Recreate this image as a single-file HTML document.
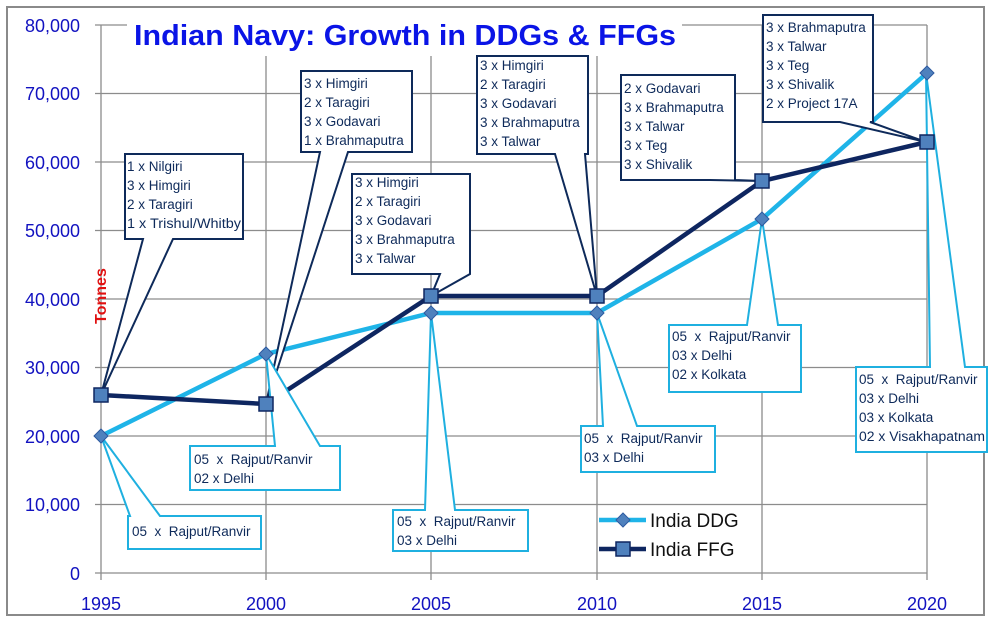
<!DOCTYPE html>
<html><head><meta charset="utf-8"><style>
html,body{margin:0;padding:0;background:#fff;}
svg{display:block;font-family:"Liberation Sans",sans-serif;}
</style></head><body>
<svg width="993" height="623" viewBox="0 0 993 623" xmlns="http://www.w3.org/2000/svg">
<rect x="0" y="0" width="993" height="623" fill="#fff"/>
<rect x="7" y="7" width="977" height="608" fill="#fff" stroke="#8a8a8a" stroke-width="2"/>
<g stroke="#8c8c8c" stroke-width="1.3" fill="none">
<line x1="95" y1="25" x2="927" y2="25"/>
<line x1="95" y1="93.5" x2="927" y2="93.5"/>
<line x1="95" y1="162" x2="927" y2="162"/>
<line x1="95" y1="230.5" x2="927" y2="230.5"/>
<line x1="95" y1="299" x2="927" y2="299"/>
<line x1="95" y1="367.5" x2="927" y2="367.5"/>
<line x1="95" y1="436" x2="927" y2="436"/>
<line x1="95" y1="504.5" x2="927" y2="504.5"/>
<line x1="95" y1="573" x2="927" y2="573"/>
<line x1="101" y1="25" x2="101" y2="580"/>
<line x1="266" y1="25" x2="266" y2="580"/>
<line x1="431" y1="25" x2="431" y2="580"/>
<line x1="597" y1="25" x2="597" y2="580"/>
<line x1="762" y1="25" x2="762" y2="580"/>
<line x1="927" y1="25" x2="927" y2="580"/>
</g>
<rect x="127" y="13" width="555" height="43" fill="#fff"/>
<text x="134" y="45" font-size="29" font-weight="bold" fill="#0a14e6" textLength="542" lengthAdjust="spacingAndGlyphs">Indian Navy: Growth in DDGs &amp; FFGs</text>
<g font-size="18" fill="#1212c0" text-anchor="end">
<text x="80" y="32">80,000</text><text x="80" y="100">70,000</text><text x="80" y="169">60,000</text>
<text x="80" y="237">50,000</text><text x="80" y="306">40,000</text><text x="80" y="374">30,000</text>
<text x="80" y="443">20,000</text><text x="80" y="511">10,000</text><text x="80" y="580">0</text>
</g>
<g font-size="18" fill="#1212c0" text-anchor="middle">
<text x="101" y="610">1995</text><text x="266" y="610">2000</text><text x="431" y="610">2005</text>
<text x="597" y="610">2010</text><text x="762" y="610">2015</text><text x="927" y="610">2020</text>
</g>
<text transform="translate(106,296) rotate(-90)" font-size="16" font-weight="bold" fill="#e01010" text-anchor="middle">Tonnes</text>

<polyline points="101,436 266,354 431,313 597,313 762,219 927,73" fill="none" stroke="#1fb4e8" stroke-width="4.5"/>
<polyline points="101,395 266,404 431,296 597,296 762,181 927,142" fill="none" stroke="#0e2660" stroke-width="4.5"/>

<g fill="#fff" stroke="#0e2a5a" stroke-width="2" stroke-linejoin="miter">
<path d="M125 154 H243 V239 H173 L101 395 L143 239 H125Z"/>
<path d="M301 71 H412 V152 H348 L266 404 L320 152 H301Z"/>
<path d="M352 174 H470 V274 L470 274 L431 296 L440 274 H352Z"/>
<path d="M477 56 H588 V154 H585 L597 296 L555 154 H477Z"/>
<path d="M621 75 H735 V180 L762 181 L710 180 H621Z"/>
<path d="M763 15 H873 V122 H870 L926 142 L840 122 H763Z"/>
</g>
<g fill="#fff" stroke="#1fb0e0" stroke-width="2">
<path d="M128 516 H130 L101 436 L160 516 H261 V549 H128Z"/>
<path d="M190 446 H275 L266 354 L320 446 H340 V490 H190Z"/>
<path d="M393 510 H425 L431 313 L455 510 H528 V551 H393Z"/>
<path d="M581 426 H603 L597 313 L637 426 H715 V472 H581Z"/>
<path d="M669 325 H747 L762 219 L778 325 H801 V392 H669Z"/>
<path d="M856 367 H930 L926 73 L965 367 H987 V452 H856Z"/>
</g>
<g fill="#4f81bd" stroke="#2d5aa0" stroke-width="1">
<path d="M101 429 l7 7 l-7 7 l-7 -7z"/><path d="M266 347 l7 7 l-7 7 l-7 -7z"/>
<path d="M431 306 l7 7 l-7 7 l-7 -7z"/><path d="M597 306 l7 7 l-7 7 l-7 -7z"/>
<path d="M762 212 l7 7 l-7 7 l-7 -7z"/><path d="M927 66 l7 7 l-7 7 l-7 -7z"/>
</g>
<g fill="#4f81bd" stroke="#0e2660" stroke-width="1.5">
<rect x="94" y="388" width="14" height="14"/><rect x="259" y="397" width="14" height="14"/>
<rect x="424" y="289" width="14" height="14"/><rect x="590" y="289" width="14" height="14"/>
<rect x="755" y="174" width="14" height="14"/><rect x="920" y="135" width="14" height="14"/>
</g>
<g font-size="13.5" fill="#0e2a5a">
<text x="127" y="171">1 x Nilgiri</text><text x="127" y="190">3 x Himgiri</text><text x="127" y="209">2 x Taragiri</text><text x="127" y="228" textLength="114" lengthAdjust="spacingAndGlyphs">1 x Trishul/Whitby</text>
<text x="304" y="88">3 x Himgiri</text><text x="304" y="107">2 x Taragiri</text><text x="304" y="126">3 x Godavari</text><text x="304" y="145">1 x Brahmaputra</text>
<text x="355" y="187">3 x Himgiri</text><text x="355" y="206">2 x Taragiri</text><text x="355" y="225">3 x Godavari</text><text x="355" y="244">3 x Brahmaputra</text><text x="355" y="263">3 x Talwar</text>
<text x="480" y="70">3 x Himgiri</text><text x="480" y="89">2 x Taragiri</text><text x="480" y="108">3 x Godavari</text><text x="480" y="127">3 x Brahmaputra</text><text x="480" y="146">3 x Talwar</text>
<text x="624" y="93">2 x Godavari</text><text x="624" y="112">3 x Brahmaputra</text><text x="624" y="131">3 x Talwar</text><text x="624" y="150">3 x Teg</text><text x="624" y="169">3 x Shivalik</text>
<text x="766" y="32">3 x Brahmaputra</text><text x="766" y="51">3 x Talwar</text><text x="766" y="70">3 x Teg</text><text x="766" y="89">3 x Shivalik</text><text x="766" y="108">2 x Project 17A</text>
<text x="132" y="536" xml:space="preserve">05  x  Rajput/Ranvir</text>
<text x="194" y="464" xml:space="preserve">05  x  Rajput/Ranvir</text><text x="194" y="483">02 x Delhi</text>
<text x="397" y="526" xml:space="preserve">05  x  Rajput/Ranvir</text><text x="397" y="545">03 x Delhi</text>
<text x="584" y="443" xml:space="preserve">05  x  Rajput/Ranvir</text><text x="584" y="462">03 x Delhi</text>
<text x="672" y="341" xml:space="preserve">05  x  Rajput/Ranvir</text><text x="672" y="360">03 x Delhi</text><text x="672" y="379">02 x Kolkata</text>
<text x="859" y="384" xml:space="preserve">05  x  Rajput/Ranvir</text><text x="859" y="403">03 x Delhi</text><text x="859" y="422">03 x Kolkata</text><text x="859" y="441" textLength="126" lengthAdjust="spacingAndGlyphs">02 x Visakhapatnam</text>
</g>
<line x1="599" y1="520" x2="646" y2="520" stroke="#1fb4e8" stroke-width="4.5"/>
<path d="M623 513 l7 7 l-7 7 l-7 -7z" fill="#4f81bd" stroke="#2d5aa0"/>
<line x1="599" y1="549" x2="646" y2="549" stroke="#0e2660" stroke-width="4.5"/>
<rect x="616" y="542" width="14" height="14" fill="#4f81bd" stroke="#0e2660" stroke-width="1.5"/>
<text x="650" y="527" font-size="19" fill="#111">India DDG</text>
<text x="650" y="556" font-size="19" fill="#111">India FFG</text>
</svg>
</body></html>
